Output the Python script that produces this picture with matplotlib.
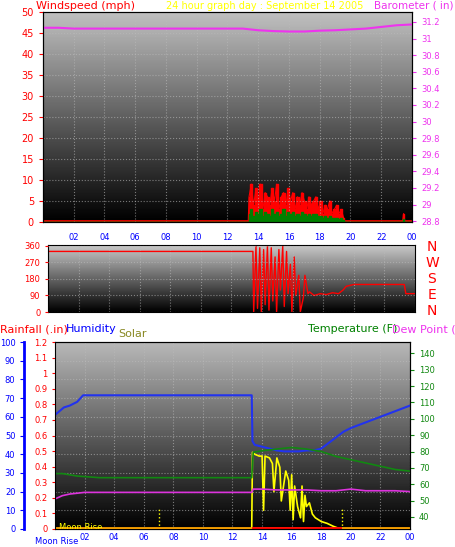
import numpy as np
import matplotlib.pyplot as plt
from matplotlib.colors import LinearSegmentedColormap

W, H = 456, 547
# ---- data ----
hours_lbl = ["02", "04", "06", "08", "10", "12", "14", "16", "18", "20", "22", "00"]

wind_t = [0, 13.35, 13.4, 13.55, 13.7, 13.85, 14.0, 14.15, 14.3, 14.45, 14.6, 14.75, 14.9, 15.05,
          15.2, 15.35, 15.5, 15.65, 15.8, 15.95, 16.1, 16.25, 16.4, 16.55, 16.7, 16.85, 17.0,
          17.15, 17.3, 17.45, 17.6, 17.75, 17.9, 18.05, 18.2, 18.35, 18.5, 18.65, 18.8, 18.95,
          19.1, 19.25, 19.4, 19.55, 19.6, 23.4, 23.45, 23.5, 24]
gust = [0.3, 0.3, 6, 9, 4, 8, 5, 9, 3, 7, 6, 4, 8, 5, 9, 3, 6, 7, 4, 8, 5, 7, 3, 6, 4, 7, 5,
        3, 6, 4, 5, 6, 3, 5, 2, 4, 3, 5, 2, 3, 4, 2, 3, 1, 0.3, 0.3, 2, 0.3, 0.3]
avg = [0, 0, 2, 3, 1.5, 2.5, 2, 3, 1.5, 2.5, 2, 1.5, 3, 2, 2.5, 1.5, 2, 3, 1.5, 2.5, 2, 2.5,
       1.5, 2, 1.5, 2.5, 2, 1.5, 2, 1.5, 2, 2, 1.5, 1.5, 1, 1.5, 1, 1.5, 1, 1, 1, 0.8, 1, 0.5,
       0, 0, 0.8, 0, 0]
baro_t = [0, 1, 2, 6, 13, 14, 15, 16, 17, 18, 19, 20, 21, 22, 23, 24]
baro = [31.13, 31.13, 31.12, 31.12, 31.12, 31.10, 31.09, 31.085, 31.085, 31.095, 31.10, 31.11,
        31.12, 31.14, 31.16, 31.17]

dir_t = [0, 13.4, 13.45, 13.6, 13.7, 13.85, 13.95, 14.1, 14.2, 14.35, 14.45, 14.6, 14.7, 14.85,
         14.95, 15.1, 15.2, 15.35, 15.45, 15.6, 15.7, 15.85, 15.95, 16.1, 16.2, 16.4, 16.5,
         16.7, 16.8, 17.0, 17.1, 17.4, 17.8, 18.2, 18.6, 19.0, 19.3, 19.5, 20, 23.3, 23.4, 24]
wdir = [330, 330, 0, 360, 20, 350, 0, 340, 40, 360, 10, 350, 60, 300, 0, 340, 120, 360, 30,
        330, 100, 260, 0, 300, 90, 200, 0, 80, 200, 100, 110, 90, 100, 95, 105, 100, 120, 140,
        150, 150, 100, 100]

hum_t = [0, 0.3, 0.6, 1.0, 1.5, 1.9, 13.3, 13.35, 13.5, 14.0, 14.5, 15.0, 15.5, 16.5, 17.0,
         17.5, 18.0, 18.5, 19.0, 19.5, 20, 21, 22, 23, 24]
hum = [61, 63, 65, 66, 68, 71.5, 71.5, 47, 45, 44, 43, 42, 41.5, 41.5, 42, 42, 43, 46, 49, 52,
       54, 57, 60, 63, 66]
temp_t = [0, 0.5, 1.5, 3, 13.3, 13.4, 14, 15, 16, 17, 18, 19, 20, 21, 22, 23, 24]
temp = [66.5, 66.5, 65, 64, 64, 79.5, 80.5, 81.5, 82.5, 81.5, 80, 77, 75, 73, 71, 69, 68]
dew_t = [0, 0.5, 1, 2, 13.3, 13.4, 14, 15, 16, 17, 18, 19, 20, 21, 22, 23, 24]
dew = [51, 53, 54, 55, 55, 57, 57, 56.5, 56.5, 56.5, 56, 56, 57, 56, 56, 56, 55.5]
sol_t = [0, 13.3, 13.35, 13.5, 13.8, 14.0, 14.1, 14.2, 14.5, 14.7, 14.8, 15.0, 15.2, 15.3,
         15.6, 15.8, 15.9, 16.0, 16.1, 16.2, 16.4, 16.6, 16.7, 16.8, 16.9, 17.0, 17.2,
         17.4, 17.6, 18.0, 18.4, 18.8, 19.3, 24]
solar = [0, 0, 41, 40, 39, 39, 10, 39, 38, 35, 20, 38, 33, 15, 31, 26, 10, 29, 5, 23, 12, 6,
         23, 4, 18, 12, 14, 8, 6, 4, 3, 1.5, 0, 0]


def ax_at(x0, y0, x1, y1):
    return fig.add_axes([x0 / W, 1 - y1 / H, (x1 - x0) / W, (y1 - y0) / H])


def backdrop(ax, top=0.75):
    cmap = LinearSegmentedColormap.from_list("g", [(top, top, top), (0, 0, 0)])
    ax.imshow(np.linspace(0, 1, 100).reshape(-1, 1), cmap=cmap, aspect="auto",
              extent=[0, 1, 0, 1], transform=ax.transAxes, zorder=0)
    ax.grid(True, color="#bbbbbb", linestyle=":", linewidth=0.8, alpha=0.6)
    ax.set_axisbelow(False)


fig = plt.figure(figsize=(W / 100, H / 100), dpi=100, facecolor="white")
fs = 7

# ---- windspeed / barometer ----
ax1 = ax_at(43, 12, 412, 222)
backdrop(ax1)
ax1.fill_between(wind_t, gust, step="mid", color="red", zorder=2)
ax1.plot(wind_t, gust, color="red", lw=0.8, zorder=2)
ax1.fill_between(wind_t, avg, step="mid", color="green", zorder=3)
ax1.set_xlim(0, 24)
ax1.set_ylim(0, 50)
ax1.set_yticks(range(0, 51, 5))
ax1.set_xticks(range(2, 25, 2))
ax1.set_xticklabels(hours_lbl)
ax1.tick_params(axis="x", colors="blue", labelsize=fs - 1, length=0, pad=8)
ax1.tick_params(axis="y", colors="red", labelsize=fs, length=3)
ax1b = ax1.twinx()
ax1b.plot(baro_t, baro, color="#ee33ee", lw=1.5)
ax1b.set_ylim(28.79, 31.32)
bt = np.round(np.arange(28.8, 31.21, 0.2), 1)
ax1b.set_yticks(bt)
ax1b.set_yticklabels([f"{v:g}" for v in bt])
ax1b.tick_params(axis="y", colors="#ee33ee", labelsize=fs - 1, length=3)
ax1.grid(True, color="#bbbbbb", linestyle=":", linewidth=0.8, alpha=0.6)
fig.text(36 / W, 1 - 6 / H, "Windspeed (mph)", color="red", fontsize=8, va="center")
fig.text(166 / W, 1 - 6 / H, "24 hour graph day : September 14 2005", color="yellow",
         fontsize=7, va="center")
fig.text(454 / W, 1 - 6 / H, "Barometer ( in)", color="#ee33ee", fontsize=7.5, va="center",
         ha="right")

# ---- wind direction ----
ax2 = ax_at(48, 245, 415, 312)
backdrop(ax2, 0.8)
ax2.plot(dir_t, wdir, color="red", lw=1, zorder=2)
ax2.set_xlim(0, 24)
ax2.set_ylim(0, 365)
ax2.set_yticks([0, 90, 180, 270, 360])
ax2.set_xticks(range(2, 25, 2))
ax2.set_xticklabels([])
ax2.tick_params(axis="x", length=0)
ax2.tick_params(axis="y", colors="red", labelsize=fs - 1, length=2)
for i, c in enumerate("NWSEN"):
    fig.text(432 / W, 1 - (247 + i * 16) / H, c, color="red", fontsize=10, ha="center",
             va="center")

# ---- humidity / temperature ----
ax3 = ax_at(55, 342, 410, 529)
backdrop(ax3, 0.72)
ax3.plot(hum_t, hum, color="#2233ee", lw=1.5, zorder=3)
ax3.plot(sol_t, solar, color="yellow", lw=1.2, zorder=4)
ax3.plot([0, 24], [0.4, 0.4], color="orange", lw=2, zorder=5)
ax3.plot([13.4, 19.3], [0.4, 0.4], color="red", lw=2, zorder=5)
for x in (7, 19.4):
    ax3.plot([x, x], [0, 12], color="yellow", lw=1, ls=":", zorder=4)
ax3.set_xlim(0, 24)
ax3.set_ylim(0, 100)
ax3.set_yticks(range(0, 101, 10))
ax3.set_xticks(range(2, 25, 2))
ax3.set_xticklabels(hours_lbl)
ax3.tick_params(axis="x", colors="blue", labelsize=fs - 1, length=0, pad=3)
ax3.tick_params(axis="y", colors="blue", labelsize=fs - 1, length=3)
ax3.spines["left"].set_position(("outward", 22))
ax3.spines["left"].set_color("blue")
ax3.spines["left"].set_linewidth(2)
ax3.text(0.3, 1, "Moon Rise", color="yellow", fontsize=6, va="center", zorder=6)
ax3r = fig.add_axes(ax3.get_position(), frameon=False)
ax3r.patch.set_alpha(0)
ax3r.set_xlim(0, 24)
ax3r.set_ylim(0, 1.2)
ax3r.set_xticks([])
rt = np.round(np.arange(0, 1.21, 0.1), 1)
ax3r.set_yticks(rt)
ax3r.set_yticklabels([f"{v:g}" for v in rt])
ax3r.tick_params(axis="y", colors="red", labelsize=fs - 1, length=2)
ax3t = ax3.twinx()
ax3t.plot(temp_t, temp, color="#118811", lw=1.2)
ax3t.plot(dew_t, dew, color="#dd33dd", lw=1.2)
ax3t.set_ylim(32.6, 147)
ax3t.set_yticks(range(40, 141, 10))
ax3t.tick_params(axis="y", colors="#118811", labelsize=fs - 1, length=3)
fig.text(0 / W, 1 - 329 / H, "Rainfall (.in)", color="red", fontsize=8, va="center")
fig.text(66 / W, 1 - 329 / H, "Humidity", color="blue", fontsize=8, va="center")
fig.text(118 / W, 1 - 334 / H, "Solar", color="#888822", fontsize=8, va="center")
fig.text(308 / W, 1 - 329 / H, "Temperature (F)", color="green", fontsize=8, va="center")
fig.text(456 / W, 1 - 329 / H, "Dew Point (", color="#ee33ee", fontsize=8, va="center",
         ha="right")
fig.text(35 / W, 1 - 541 / H, "Moon Rise", color="blue", fontsize=6, va="center")

fig.savefig("out.png", dpi=100, facecolor="white")
